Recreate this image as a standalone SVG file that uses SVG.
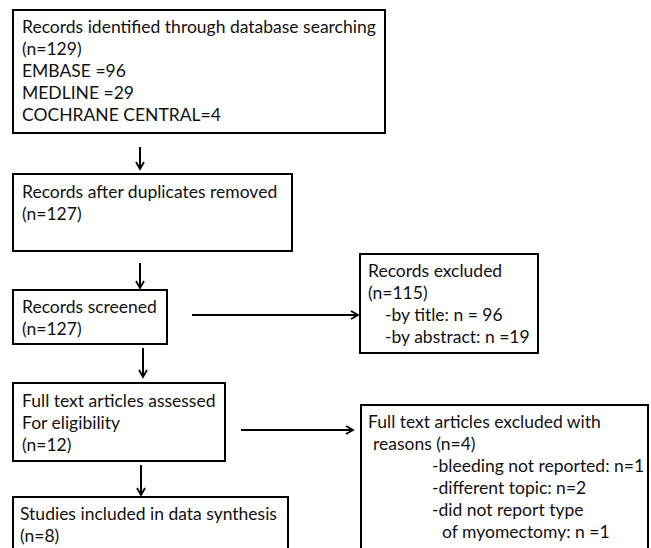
<svg xmlns="http://www.w3.org/2000/svg" width="651" height="548" viewBox="0 0 651 548">
<style>
.box{fill:#fff;stroke:#000;stroke-width:2}
text{font-family:Lato,"Open Sans","Liberation Sans",sans-serif;font-size:17.5px;fill:#111}
.c{stroke:#000;stroke-width:2;fill:none}
</style>
<defs>
<marker id="ah" markerWidth="10" markerHeight="10" refX="8" refY="5" orient="auto" markerUnits="userSpaceOnUse">
<path d="M1,1 L8,5 L1,9" fill="none" stroke="#000" stroke-width="1.8"/>
</marker>
</defs>
<rect width="651" height="548" fill="#fff"/>
<g id="connectors">
<line class="c" x1="140" y1="147" x2="140" y2="169" marker-end="url(#ah)"/>
<line class="c" x1="140" y1="263" x2="140" y2="288" marker-end="url(#ah)"/>
<line class="c" x1="192" y1="315" x2="358" y2="315" marker-end="url(#ah)"/>
<line class="c" x1="143" y1="348" x2="143" y2="377" marker-end="url(#ah)"/>
<line class="c" x1="241" y1="430" x2="353" y2="430" marker-end="url(#ah)"/>
<line class="c" x1="141" y1="465" x2="141" y2="495" marker-end="url(#ah)"/>
</g>
<g id="identified">
<rect class="box" x="13" y="10" width="372" height="123"/>
<text x="22" y="33">Records identified through database searching</text>
<text x="22" y="55">(n=129)</text>
<text x="22" y="77">EMBASE =96</text>
<text x="22" y="99">MEDLINE =29</text>
<text x="22" y="121">COCHRANE CENTRAL=4</text>
</g>
<g id="duplicates">
<rect class="box" x="13" y="174" width="279" height="77"/>
<text x="22" y="198">Records after duplicates removed</text>
<text x="22" y="220">(n=127)</text>
</g>
<g id="screened">
<rect class="box" x="13" y="290" width="154" height="54"/>
<text x="22" y="313">Records screened</text>
<text x="22" y="335">(n=127)</text>
</g>
<g id="excluded">
<rect class="box" x="360" y="254" width="178" height="99"/>
<text x="368" y="277">Records excluded</text>
<text x="368" y="299">(n=115)</text>
<text x="385" y="321">-by title: n = 96</text>
<text x="385" y="343">-by abstract: n =19</text>
</g>
<g id="fulltext">
<rect class="box" x="13" y="383" width="212" height="78"/>
<text x="22" y="407">Full text articles assessed</text>
<text x="22" y="429">For eligibility</text>
<text x="22" y="451">(n=12)</text>
</g>
<g id="ftexcluded">
<rect class="box" x="361" y="405" width="287" height="160"/>
<text x="368" y="428">Full text articles excluded with</text>
<text x="373" y="450">reasons (n=4)</text>
<text x="432" y="472">-bleeding not reported: n=1</text>
<text x="432" y="494">-different topic: n=2</text>
<text x="432" y="516">-did not report type</text>
<text x="442" y="538">of myomectomy: n =1</text>
</g>
<g id="included">
<rect class="box" x="13" y="497" width="275" height="70"/>
<text x="20" y="520">Studies included in data synthesis</text>
<text x="20" y="542">(n=8)</text>
</g>
</svg>
